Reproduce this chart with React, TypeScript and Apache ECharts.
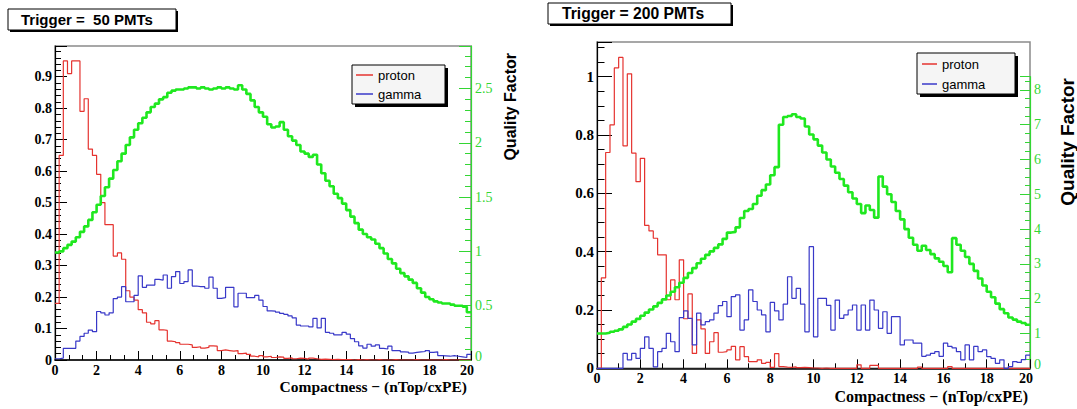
import React, { useEffect, useRef } from 'react';
import * as echarts from 'echarts';

// ---------- data (100 bins of width 0.2 from 0 to 20) ----------
const BIN_WIDTH = 0.2;
const SERIES_NAMES = ['proton', 'gamma'];
const PANEL_TITLES = ['Trigger =  50 PMTs', 'Trigger = 200 PMTs'];
const X_TITLE = 'Compactness \u2212 (nTop/cxPE)';
const Y2_TITLE = 'Quality Factor';

const LEFT_PROTON = [
  0.18, 0.65, 0.95, 0.91, 0.95, 0.95, 0.79, 0.83, 0.67, 0.65,
  0.59, 0.50, 0.43, 0.43, 0.33, 0.34, 0.32, 0.22, 0.20, 0.19,
  0.16, 0.15, 0.12, 0.115, 0.125, 0.096, 0.094, 0.06, 0.058, 0.055,
  0.05, 0.05, 0.048, 0.04, 0.042, 0.038, 0.04, 0.045, 0.044, 0.03,
  0.032, 0.03, 0.028, 0.03, 0.02, 0.022, 0.018, 0.012, 0.01, 0.014,
  0.01, 0.012, 0.008, 0.01, 0.009, 0.005, 0.007, 0.004, 0.006, 0.005,
  0.003, 0.006, 0.004, 0.002, 0.003, 0.002, 0.001, 0.002, 0.001, 0.001,
  0.001, 0, 0.001, 0, 0.001, 0, 0, 0.001, 0, 0,
  0, 0.001, 0, 0, 0, 0, 0.001, 0, 0, 0,
  0, 0, 0, 0.001, 0, 0, 0, 0, 0, 0,
];

const LEFT_GAMMA = [
  0.004, 0.006, 0.037, 0.037, 0.037, 0.06, 0.075, 0.085, 0.095, 0.09,
  0.154, 0.15, 0.143, 0.15, 0.195, 0.2, 0.233, 0.185, 0.185, 0.205,
  0.267, 0.231, 0.238, 0.238, 0.256, 0.254, 0.27, 0.228, 0.265, 0.281,
  0.243, 0.249, 0.286, 0.235, 0.233, 0.233, 0.228, 0.263, 0.228, 0.196,
  0.198, 0.231, 0.231, 0.169, 0.212, 0.212, 0.198, 0.198, 0.205, 0.19,
  0.17, 0.156, 0.155, 0.152, 0.148, 0.145, 0.14, 0.134, 0.111, 0.108,
  0.108, 0.105, 0.132, 0.102, 0.132, 0.088, 0.085, 0.08, 0.08, 0.088,
  0.082, 0.068, 0.058, 0.045, 0.038, 0.05, 0.044, 0.048, 0.037, 0.035,
  0.044, 0.03, 0.03, 0.026, 0.025, 0.022, 0.024, 0.026, 0.027, 0.03,
  0.024, 0.026, 0.014, 0.013, 0.012, 0.014, 0.012, 0.01, 0.008, 0.018,
];

const LEFT_QUALITY = [
  0.99, 1.00, 1.03, 1.06, 1.09, 1.13, 1.18, 1.23, 1.29, 1.36,
  1.43, 1.51, 1.59, 1.67, 1.75, 1.83, 1.90, 1.98, 2.05, 2.12,
  2.18, 2.23, 2.28, 2.33, 2.36, 2.40, 2.42, 2.46, 2.48, 2.49,
  2.49, 2.50, 2.51, 2.51, 2.50, 2.51, 2.50, 2.49, 2.50, 2.51,
  2.50, 2.51, 2.50, 2.49, 2.53, 2.49, 2.45, 2.39, 2.33, 2.28,
  2.24, 2.17, 2.14, 2.15, 2.19, 2.12, 2.06, 2.02, 1.98, 1.92,
  1.90, 1.87, 1.89, 1.80, 1.72, 1.65, 1.60, 1.53, 1.49, 1.44,
  1.38, 1.32, 1.26, 1.20, 1.16, 1.13, 1.11, 1.07, 1.03, 0.98,
  0.93, 0.89, 0.84, 0.80, 0.77, 0.74, 0.71, 0.66, 0.62, 0.58,
  0.56, 0.54, 0.53, 0.52, 0.52, 0.51, 0.50, 0.50, 0.49, 0.44,
];

const RIGHT_PROTON = [
  0, 0.31, 0.74, 0.835, 1.03, 1.066, 0.763, 1.01, 0.738, 0.64,
  0.72, 0.49, 0.471, 0.446, 0.389, 0.389, 0.235, 0.303, 0.235, 0.372,
  0.17, 0.255, 0.051, 0.166, 0.135, 0.051, 0.091, 0.122, 0.055, 0.057,
  0.063, 0.075, 0.029, 0.074, 0.04, 0.023, 0.023, 0.029, 0.017, 0.02,
  0.003, 0.05, 0.006, 0.004, 0.003, 0.005, 0.002, 0.003, 0.002, 0.001,
  0.001, 0, 0.001, 0, 0, 0, 0, 0, 0, 0,
  0.012, 0, 0, 0.01, 0.01, 0, 0, 0, 0, 0,
  0, 0, 0, 0, 0.004, 0, 0, 0, 0, 0,
  0, 0.006, 0, 0, 0, 0, 0, 0, 0, 0,
  0, 0, 0, 0, 0, 0, 0, 0, 0, 0,
];

const RIGHT_GAMMA = [
  0, 0, 0, 0, 0, 0, 0.051, 0.029, 0.051, 0.034,
  0.068, 0.108, 0.068, 0.005, 0.057, 0.068, 0.12, 0.091, 0.057, 0.174,
  0.197, 0.171, 0.08, 0.189, 0.149, 0.16, 0.166, 0.189, 0.215, 0.229,
  0.177, 0.246, 0.252, 0.131, 0.166, 0.269, 0.229, 0.2, 0.183, 0.125,
  0.226, 0.197, 0.166, 0.22, 0.314, 0.24, 0.274, 0.22, 0.125, 0.417,
  0.108, 0.24, 0.24, 0.216, 0.131, 0.234, 0.171, 0.183, 0.2, 0.217,
  0.131, 0.217, 0.131, 0.234, 0.2, 0.137, 0.194, 0.12, 0.177, 0.177,
  0.08, 0.097, 0.097, 0.086, 0.086, 0.041, 0.045, 0.051, 0.057, 0.041,
  0.086, 0.075, 0.07, 0.057, 0.029, 0.08, 0.029, 0.075, 0.057, 0.063,
  0.04, 0.034, 0.017, 0.029, 0.0, 0.006, 0.023, 0.02, 0.03, 0.045,
];

const RIGHT_QUALITY = [
  1.00, 1.00, 1.02, 1.05, 1.08, 1.12, 1.19, 1.26, 1.34, 1.42,
  1.51, 1.60, 1.69, 1.78, 1.88, 1.98, 2.09, 2.20, 2.33, 2.46,
  2.60, 2.74, 2.88, 3.02, 3.15, 3.26, 3.36, 3.46, 3.56, 3.72,
  3.90, 3.92, 4.05, 4.32, 4.52, 4.58, 4.72, 4.96, 5.12, 5.28,
  5.55, 5.78, 7.00, 7.22, 7.25, 7.30, 7.22, 7.18, 6.95, 6.72,
  6.58, 6.40, 6.20, 6.00, 5.80, 5.62, 5.44, 5.25, 5.06, 4.88,
  4.72, 4.46, 4.68, 4.55, 4.33, 5.51, 5.22, 5.00, 4.78, 4.52,
  4.28, 4.00, 3.75, 3.55, 3.38, 3.52, 3.40, 3.28, 3.16, 3.06,
  2.94, 2.76, 3.74, 3.55, 3.38, 3.20, 3.00, 2.80, 2.58, 2.38,
  2.20, 2.04, 1.86, 1.70, 1.58, 1.46, 1.40, 1.34, 1.30, 1.25,
];

// ---------- styling ----------
const RED = '#e5332f';
const BLUE = '#3838c8';
const GREEN = '#1fe81f';
const GREEN_AXIS = '#33d633';
const SERIF = 'Liberation Serif';
const SANS = 'Liberation Sans';

function steps(values: number[]): number[][] {
  const pts = values.map((v, i) => [+(i * BIN_WIDTH).toFixed(2), v]);
  pts.push([+(values.length * BIN_WIDTH).toFixed(2), values[values.length - 1]]);
  return pts;
}

function xAxis(gridIndex: number, minorSplit: number, fontSize: number, margin: number, show = true) {
  const font = { color: '#000', fontFamily: SERIF, fontWeight: 'bold', fontSize };
  return {
    type: 'value',
    gridIndex,
    min: 0,
    max: 20,
    interval: 2,
    show,
    axisLine: { show: true, onZero: false, lineStyle: { color: '#000', width: 1.6 } },
    axisTick: { show: true, inside: true, length: 9, lineStyle: { color: '#000', width: 1 } },
    minorTick: { show: true, splitNumber: minorSplit, length: 5, lineStyle: { color: '#000', width: 1 } },
    splitLine: { show: false },
    minorSplitLine: { show: false },
    axisLabel: {
      ...font,
      margin,
      formatter: (v: number) => (v === 20 ? '{e|20}' : String(v)),
      rich: { e: { ...font, padding: [0, 8, 0, 0] } },
    },
  };
}

function leftY(gridIndex: number, max: number, interval: number, minorSplit: number, fontSize: number, tickLen: number) {
  return {
    type: 'value',
    gridIndex,
    position: 'left',
    min: 0,
    max,
    interval,
    axisLine: { show: true, onZero: false, lineStyle: { color: '#000', width: 1.2 } },
    axisTick: { show: true, inside: true, length: tickLen, lineStyle: { color: '#000', width: 1 } },
    minorTick: { show: true, splitNumber: minorSplit, length: tickLen / 2, lineStyle: { color: '#000', width: 1 } },
    splitLine: { show: false },
    axisLabel: { color: '#000', fontFamily: SERIF, fontWeight: 'bold', fontSize, margin: 3, showMaxLabel: false },
  };
}

function rightY(gridIndex: number, max: number, interval: number, minorSplit: number, tickLen: number) {
  const font = { color: GREEN_AXIS, fontFamily: SERIF, fontSize: 14 };
  return {
    type: 'value',
    gridIndex,
    position: 'right',
    min: 0,
    max,
    interval,
    axisLine: { show: true, onZero: false, lineStyle: { color: GREEN_AXIS, width: 1.2 } },
    axisTick: { show: true, inside: true, length: tickLen, lineStyle: { color: GREEN_AXIS, width: 1 } },
    minorTick: { show: true, splitNumber: minorSplit, length: tickLen / 2, lineStyle: { color: GREEN_AXIS, width: 1 } },
    splitLine: { show: false },
    axisLabel: {
      ...font,
      margin: 4,
      showMaxLabel: false,
      formatter: (v: number) => (v === 0 ? '{z|0}' : String(v)),
      rich: { z: { ...font, padding: [0, 0, 7, 0] } },
    },
  };
}

function hist(name: string, values: number[], xAxisIndex: number, yAxisIndex: number, color: string, width: number, z: number) {
  return {
    type: 'line',
    name,
    xAxisIndex,
    yAxisIndex,
    step: 'end',
    data: steps(values),
    showSymbol: false,
    symbol: 'none',
    color,
    itemStyle: { color },
    lineStyle: { color, width },
    z,
    silent: true,
  };
}

function legendOpt(left: number, top: number, itemWidth: number, itemGap: number) {
  return {
    data: SERIES_NAMES,
    orient: 'vertical',
    left,
    top,
    padding: 0,
    itemWidth,
    itemHeight: 1.5,
    itemGap,
    icon: 'rect',
    selectedMode: false,
    backgroundColor: 'transparent',
    z: 20,
    textStyle: { fontFamily: SANS, fontSize: 13, color: '#000', lineHeight: 14 },
  };
}

function shadowBox(x: number, y: number, w: number, h: number, off: number, fill: string) {
  return [
    { type: 'rect', z: 15, shape: { x: x + off, y: y + off, width: w, height: h }, style: { fill: '#000' } },
    { type: 'rect', z: 16, shape: { x, y, width: w, height: h }, style: { fill, stroke: '#000', lineWidth: 1 } },
  ];
}

const option = {
  animation: false,
  backgroundColor: '#fff',
  title: [
    {
      text: PANEL_TITLES[0],
      left: 21,
      top: 11,
      padding: 0,
      z: 20,
      textStyle: { fontFamily: SANS, fontWeight: 'bold', fontSize: 15, color: '#000', lineHeight: 17 },
    },
    {
      text: PANEL_TITLES[1],
      left: 562,
      top: 5,
      padding: 0,
      z: 20,
      textStyle: { fontFamily: SANS, fontWeight: 'bold', fontSize: 15.7, color: '#000', lineHeight: 17 },
    },
  ],
  legend: [legendOpt(356, 68, 17, 5), legendOpt(922, 57, 15, 6)],
  grid: [
    { left: 55, top: 46, width: 416, height: 314, show: true, borderColor: '#8a8a8a', borderWidth: 1.5, backgroundColor: 'transparent', outerBoundsMode: 'none' },
    { left: 597, top: 42, width: 433, height: 326.3, show: true, borderColor: '#8a8a8a', borderWidth: 1.5, backgroundColor: 'transparent', outerBoundsMode: 'none' },
    { left: 597, top: 76.7, width: 433, height: 291.6, show: false, outerBoundsMode: 'none' },
  ],
  xAxis: [
    xAxis(0, 3, 14, 3),
    xAxis(1, 2, 14, 3),
    xAxis(2, 2, 14, 3, false),
  ],
  yAxis: [
    leftY(0, 0.9975, 0.1, 5, 14, 12),
    rightY(0, 2.891, 0.5, 5, 12),
    leftY(1, 1.119, 0.2, 4, 15, 15),
    rightY(2, 8.38, 1, 4, 10),
  ],
  series: [
    hist(SERIES_NAMES[0], LEFT_PROTON, 0, 0, RED, 1.2, 3),
    hist(SERIES_NAMES[1], LEFT_GAMMA, 0, 0, BLUE, 1.2, 4),
    hist(Y2_TITLE, LEFT_QUALITY, 0, 1, GREEN, 2.6, 5),
    hist(SERIES_NAMES[0], RIGHT_PROTON, 1, 2, RED, 1.2, 3),
    hist(SERIES_NAMES[1], RIGHT_GAMMA, 1, 2, BLUE, 1.2, 4),
    hist(Y2_TITLE, RIGHT_QUALITY, 2, 3, GREEN, 2.6, 5),
  ],
  graphic: [
    ...shadowBox(8, 9, 168, 21, 2, '#fff'),
    ...shadowBox(548, 3, 183, 21, 2, '#fff'),
    ...shadowBox(352, 65, 93, 39, 3, '#f5f5f5'),
    ...shadowBox(917, 53, 98, 41, 3, '#f5f5f5'),
    {
      type: 'text',
      x: 467,
      y: 386.5,
      z: 20,
      style: { text: X_TITLE, fontFamily: SERIF, fontWeight: 'bold', fontSize: 15.5, fill: '#000', align: 'right', verticalAlign: 'middle' },
    },
    {
      type: 'text',
      x: 1028,
      y: 396.5,
      z: 20,
      style: { text: X_TITLE, fontFamily: SERIF, fontWeight: 'bold', fontSize: 16, fill: '#000', align: 'right', verticalAlign: 'middle' },
    },
    {
      type: 'text',
      x: 510,
      y: 53,
      rotation: Math.PI / 2,
      z: 20,
      style: { text: Y2_TITLE, fontFamily: SANS, fontWeight: 'bold', fontSize: 16, fill: '#000', align: 'right', verticalAlign: 'middle' },
    },
    {
      type: 'text',
      x: 1067.5,
      y: 78,
      rotation: Math.PI / 2,
      z: 20,
      style: { text: Y2_TITLE, fontFamily: SANS, fontWeight: 'bold', fontSize: 19, fill: '#000', align: 'right', verticalAlign: 'middle' },
    },
  ],
};

export default function App() {
  const ref = useRef<HTMLDivElement>(null);
  useEffect(() => {
    if (!ref.current) return;
    const chart = echarts.init(ref.current, undefined, { renderer: 'svg' });
    chart.setOption(option as any);
    return () => chart.dispose();
  }, []);
  return (
    <div
      ref={ref}
      style={{ position: 'fixed', left: 0, top: 0, width: 1077, height: 409, background: '#fff' }}
    />
  );
}
